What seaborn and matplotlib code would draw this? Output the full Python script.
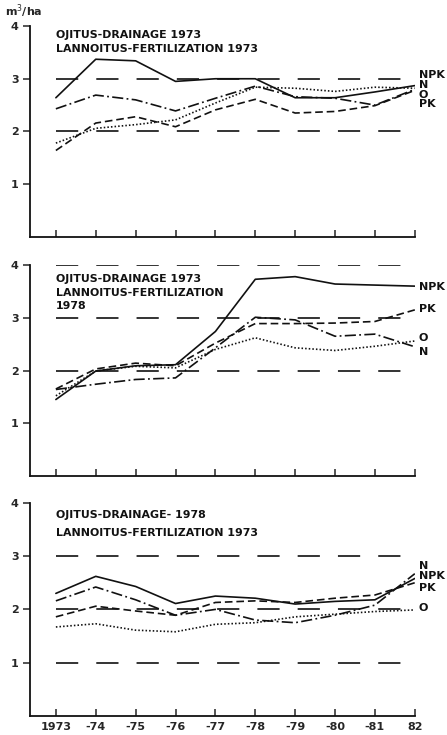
import numpy as np
import pandas as pd
import seaborn as sns
import matplotlib
matplotlib.use("Agg")
import matplotlib.pyplot as plt

sns.set_style("ticks")
plt.rcParams['font.family'] = ['DejaVu Sans']
plt.rcParams['lines.scale_dashes'] = False

years = [1973, 1974, 1975, 1976, 1977, 1978, 1979, 1980, 1981, 1982]
tick_labels = ['1973', '-74', '-75', '-76', '-77', '-78', '-79', '-80', '-81', '82']
treatments = ['NPK', 'N', 'O', 'PK']

# panel 1: drainage 1973, fertilization 1973
p1_npk = [2.64, 3.37, 3.34, 2.95, 3.00, 3.00, 2.64, 2.64, 2.75, 2.87]
p1_n   = [2.43, 2.69, 2.60, 2.39, 2.63, 2.86, 2.66, 2.63, 2.50, 2.80]
p1_o   = [1.78, 2.06, 2.13, 2.22, 2.54, 2.84, 2.82, 2.76, 2.84, 2.82]
p1_pk  = [1.64, 2.16, 2.28, 2.09, 2.41, 2.61, 2.35, 2.38, 2.49, 2.78]

# panel 2: drainage 1973, fertilization 1978
p2_npk = [1.45, 1.99, 2.09, 2.11, 2.74, 3.73, 3.78, 3.64, 3.62, 3.60]
p2_n   = [1.64, 1.74, 1.83, 1.86, 2.43, 3.01, 2.96, 2.65, 2.69, 2.45]
p2_o   = [1.52, 1.99, 2.08, 2.05, 2.40, 2.62, 2.43, 2.38, 2.46, 2.56]
p2_pk  = [1.65, 2.03, 2.14, 2.09, 2.52, 2.89, 2.89, 2.90, 2.93, 3.15]

# panel 3: drainage 1978, fertilization 1973
p3_npk = [2.30, 2.62, 2.43, 2.11, 2.25, 2.21, 2.10, 2.15, 2.18, 2.58]
p3_n   = [2.16, 2.42, 2.18, 1.89, 2.00, 1.80, 1.75, 1.89, 2.08, 2.67]
p3_o   = [1.67, 1.73, 1.61, 1.58, 1.72, 1.75, 1.86, 1.91, 1.96, 1.99]
p3_pk  = [1.86, 2.06, 1.97, 1.89, 2.13, 2.16, 2.13, 2.21, 2.27, 2.50]

titles = [["OJITUS-DRAINAGE 1973", "LANNOITUS-FERTILIZATION 1973"],
          ["OJITUS-DRAINAGE 1973", "LANNOITUS-FERTILIZATION", "1978"],
          ["OJITUS-DRAINAGE- 1978", "LANNOITUS-FERTILIZATION 1973"]]
title_y = [[3.83, 3.56], [3.73, 3.47, 3.23], [3.77, 3.43]]
ref_levels = [[3, 2], [4, 3, 2], [3, 2, 1]]
end_labels = [{'NPK': 3.07, 'N': 2.88, 'O': 2.69, 'PK': 2.52},
              {'NPK': 3.59, 'PK': 3.17, 'O': 2.62, 'N': 2.36},
              {'N': 2.82, 'NPK': 2.62, 'PK': 2.40, 'O': 2.02}]

panels = [[p1_npk, p1_n, p1_o, p1_pk],
          [p2_npk, p2_n, p2_o, p2_pk],
          [p3_npk, p3_n, p3_o, p3_pk]]

dash_map = {'NPK': '', 'N': (8, 2.4, 1.3, 2.4), 'O': (1.1, 1.5), 'PK': (5.5, 2.8)}

fig = plt.figure(figsize=(4.47, 7.35), dpi=100)
boxes = [[0.067, 0.6776, 0.861, 0.287],
         [0.067, 0.3524, 0.861, 0.287],
         [0.067, 0.0259, 0.861, 0.290]]

for i, series in enumerate(panels):
    ax = fig.add_axes(boxes[i])
    rows = []
    for t, vals in zip(treatments, series):
        for y, v in zip(years, vals):
            rows.append({'year': y, 'value': v, 'treatment': t})
    df = pd.DataFrame(rows)
    sns.lineplot(data=df, x='year', y='value', style='treatment', dashes=dash_map,
                 color='#111111', linewidth=1.2, legend=False, ax=ax)

    for lev in ref_levels[i]:
        ax.plot([1973, 1981.67], [lev, lev], color='#111111', lw=1.2, dashes=(16, 13))

    for j, line in enumerate(titles[i]):
        ax.text(1973, title_y[i][j], line, fontsize=7.9, fontweight='bold', va='center',
                ha='left', color='#111111')

    for lab, yv in end_labels[i].items():
        ax.text(1982.1, yv, lab, fontsize=8, fontweight='bold', va='center',
                ha='left', color='#111111', clip_on=False)

    ax.set_xlim(1972.35, 1982)
    ax.set_ylim(0, 4)
    ax.set_yticks([1, 2, 3, 4])
    ax.set_yticklabels(['1', '2', '3', '4'], fontsize=8, fontweight='bold')
    ax.set_xticks(years)
    if i == 2:
        ax.set_xticklabels(tick_labels, fontsize=8, fontweight='bold')
    else:
        ax.set_xticklabels([])
    ax.tick_params(axis='x', direction='in', length=5, width=1.1, pad=4)
    ax.tick_params(axis='y', direction='out', length=5, width=1.1, pad=3)
    ax.set_xlabel('')
    ax.set_ylabel('')
    sns.despine(ax=ax)
    for s in ['left', 'bottom']:
        ax.spines[s].set_linewidth(1.3)
        ax.spines[s].set_color('#111111')

fig.text(0.012, 0.9845, 'm$^3$/ha', fontsize=8, fontweight='bold', ha='left', va='center')

fig.savefig('out.png', dpi=100)
